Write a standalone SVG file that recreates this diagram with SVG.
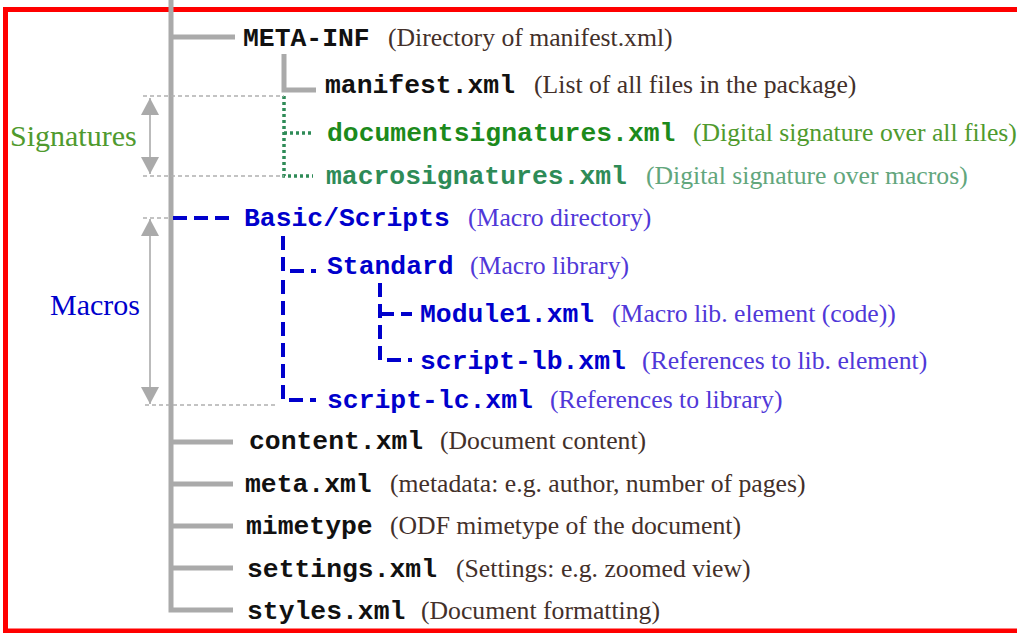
<svg xmlns="http://www.w3.org/2000/svg" width="1017" height="633" viewBox="0 0 1017 633">
  <defs>
    <marker id="tri" viewBox="0 0 18 18" refX="17" refY="9" markerWidth="18" markerHeight="18" markerUnits="userSpaceOnUse" orient="auto-start-reverse">
      <path d="M0,0 L17,9 L0,18 Z" fill="#aaaaaa"/>
    </marker>
    <style>
      .frame { fill: none; stroke: #ff0000; stroke-width: 5; }
      .tree { fill: none; stroke: #aaaaaa; stroke-width: 5; }
      .guide { fill: none; stroke: #b0b0b0; stroke-width: 1.6; stroke-dasharray: 4 3; }
      .span { fill: none; stroke: #aaaaaa; stroke-width: 1.6; }
      .sig { fill: none; stroke: #2e8b57; stroke-width: 3.5; stroke-dasharray: 3 3; }
      .mac { fill: none; stroke: #0000cc; stroke-width: 4; stroke-dasharray: 14 7; }
      .name { font-family: "Liberation Mono", "Courier New", monospace; font-weight: bold; font-size: 26.4px; }
      .desc { font-family: "Liberation Serif", "Times New Roman", serif; font-size: 25.7px; }
      .label { font-family: "Liberation Serif", "Times New Roman", serif; font-size: 30px; }
      .k { fill: #111111; }
      .kd { fill: #43302a; }
      .g1 { fill: #1c8a1c; }
      .g1d { fill: #4f9a2e; }
      .g2 { fill: #2e8b57; }
      .g2d { fill: #62a67c; }
      .b { fill: #0000cc; }
      .bd { fill: #5038d8; }
    </style>
  </defs>

  <rect class="frame" x="5.5" y="9.5" width="1020" height="621.5"/>

  <g id="connectors">
    <!-- main trunk and top-level branches -->
    <path class="tree" d="M171,0 V610 H233"/>
    <path class="tree" d="M171,37 H235"/>
    <path class="tree" d="M171,442 H233 M171,484 H233 M171,526 H233 M171,568 H233"/>
    <!-- META-INF children -->
    <path class="tree" d="M284,54 V90 H316"/>
    <path class="sig" d="M284,96 V176 H313 M284,133 H313"/>
    <!-- Basic/Scripts subtree -->
    <path class="mac" d="M173,218 H231"/>
    <path class="mac" d="M283,236 V271 H316"/>
    <path class="mac" d="M283,280 V400 H316"/>
    <path class="mac" d="M380,283 V360 H412"/>
    <path class="mac" d="M380,314 H412"/>
    <!-- range guides -->
    <path class="guide" d="M143,96 H284 M143,176 H284"/>
    <path class="guide" d="M143,218 H172 M145,405 H278"/>
    <path class="span" d="M150,98 V174" marker-start="url(#tri)" marker-end="url(#tri)"/>
    <path class="span" d="M150,219 V404" marker-start="url(#tri)" marker-end="url(#tri)"/>
  </g>

  <g id="label-signatures"><text class="label g1d" x="10" y="146">Signatures</text></g>
  <g id="label-macros"><text class="label b" x="50" y="315">Macros</text></g>

  <g id="meta-inf"><text x="243" y="46"><tspan class="name k">META-INF</tspan><tspan class="desc kd" x="388">(Directory of manifest.xml)</tspan></text></g>
  <g id="manifest"><text x="325" y="93"><tspan class="name k">manifest.xml</tspan><tspan class="desc kd" x="534">(List of all files in the package)</tspan></text></g>
  <g id="documentsignatures"><text x="327" y="141"><tspan class="name g1">documentsignatures.xml</tspan><tspan class="desc g1d" x="693">(Digital signature over all files)</tspan></text></g>
  <g id="macrosignatures"><text x="326" y="184"><tspan class="name g2">macrosignatures.xml</tspan><tspan class="desc g2d" x="646">(Digital signature over macros)</tspan></text></g>
  <g id="basic-scripts"><text x="244" y="226"><tspan class="name b">Basic/Scripts</tspan><tspan class="desc bd" x="468">(Macro directory)</tspan></text></g>
  <g id="standard"><text x="327" y="274"><tspan class="name b">Standard</tspan><tspan class="desc bd" x="470">(Macro library)</tspan></text></g>
  <g id="module1"><text x="420" y="322"><tspan class="name b">Module1.xml</tspan><tspan class="desc bd" x="612">(Macro lib. element (code))</tspan></text></g>
  <g id="script-lb"><text x="420" y="369"><tspan class="name b">script-lb.xml</tspan><tspan class="desc bd" x="642">(References to lib. element)</tspan></text></g>
  <g id="script-lc"><text x="327" y="408"><tspan class="name b">script-lc.xml</tspan><tspan class="desc bd" x="550">(References to library)</tspan></text></g>
  <g id="content"><text x="249" y="449"><tspan class="name k">content.xml</tspan><tspan class="desc kd" x="440">(Document content)</tspan></text></g>
  <g id="meta"><text x="245" y="492"><tspan class="name k">meta.xml</tspan><tspan class="desc kd" x="390">(metadata: e.g. author, number of pages)</tspan></text></g>
  <g id="mimetype"><text x="246" y="534"><tspan class="name k">mimetype</tspan><tspan class="desc kd" x="390">(ODF mimetype of the document)</tspan></text></g>
  <g id="settings"><text x="247" y="577"><tspan class="name k">settings.xml</tspan><tspan class="desc kd" x="456">(Settings: e.g. zoomed view)</tspan></text></g>
  <g id="styles"><text x="247" y="619"><tspan class="name k">styles.xml</tspan><tspan class="desc kd" x="421">(Document formatting)</tspan></text></g>
</svg>
